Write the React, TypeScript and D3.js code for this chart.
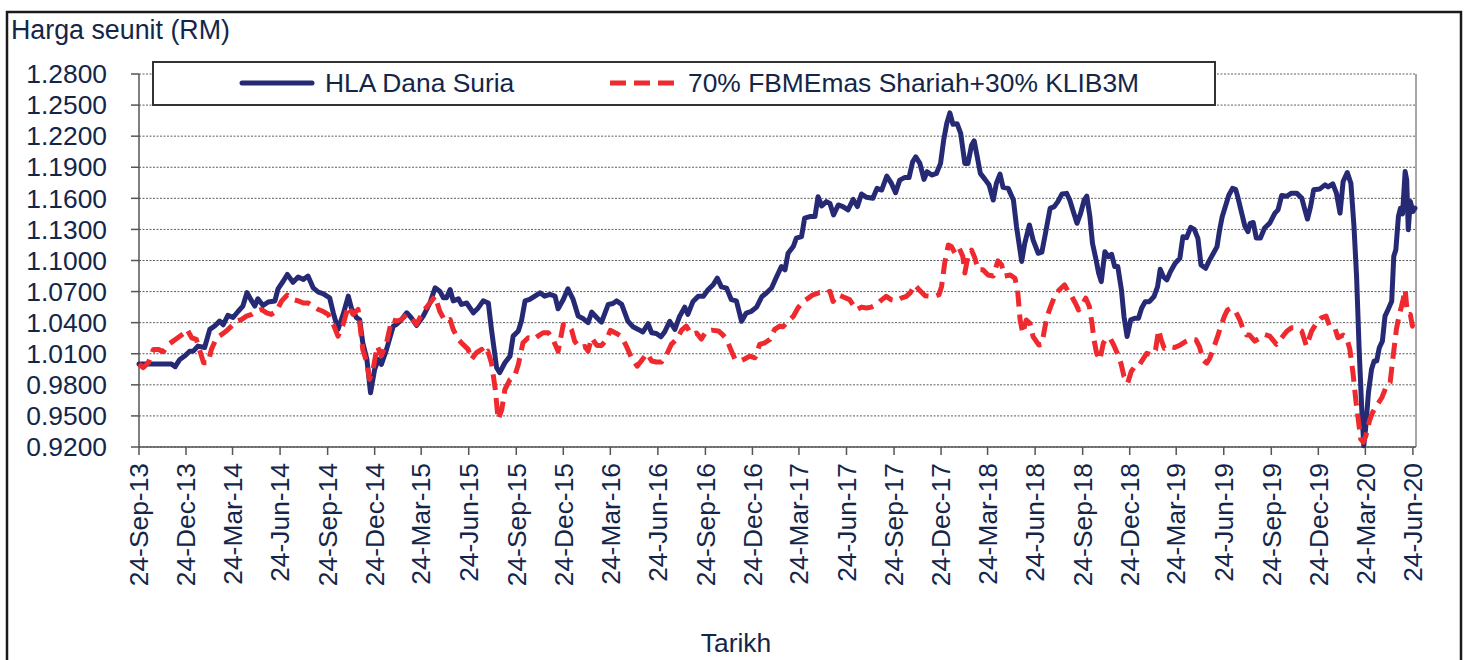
import React from "react";
import * as d3 from "d3";

const yTicks = [0.92, 0.95, 0.98, 1.01, 1.04, 1.07, 1.1, 1.13, 1.16, 1.19, 1.22, 1.25, 1.28];

const xTickDates = [
  "2013-09-24", "2013-12-24", "2014-03-24", "2014-06-24", "2014-09-24", "2014-12-24",
  "2015-03-24", "2015-06-24", "2015-09-24", "2015-12-24", "2016-03-24", "2016-06-24",
  "2016-09-24", "2016-12-24", "2017-03-24", "2017-06-24", "2017-09-24", "2017-12-24",
  "2018-03-24", "2018-06-24", "2018-09-24", "2018-12-24", "2019-03-24", "2019-06-24",
  "2019-09-24", "2019-12-24", "2020-03-24", "2020-06-24",
];

const seriesNames = ["HLA Dana Suria", "70% FBMEmas Shariah+30% KLIB3M"];
const yAxisTitle = "Harga seunit (RM)";
const xAxisTitle = "Tarikh";

const hlaSeries: [string, number][] = [
  ["2013-09-24", 1.0], ["2013-11-26", 1.0], ["2013-12-03", 0.9975], ["2013-12-12", 1.0045],
  ["2013-12-22", 1.008], ["2013-12-31", 1.0125], ["2014-01-07", 1.0125], ["2014-01-16", 1.0174],
  ["2014-01-29", 1.016], ["2014-02-08", 1.0335], ["2014-02-18", 1.037], ["2014-02-27", 1.0415],
  ["2014-03-06", 1.038], ["2014-03-15", 1.047], ["2014-03-25", 1.045], ["2014-04-04", 1.051],
  ["2014-04-13", 1.056], ["2014-04-21", 1.069], ["2014-04-30", 1.061], ["2014-05-06", 1.056],
  ["2014-05-12", 1.063], ["2014-05-22", 1.0566], ["2014-06-01", 1.06], ["2014-06-14", 1.061],
  ["2014-06-20", 1.0727], ["2014-06-30", 1.08], ["2014-07-08", 1.0865], ["2014-07-19", 1.079],
  ["2014-07-29", 1.084], ["2014-08-08", 1.0817], ["2014-08-17", 1.085], ["2014-08-27", 1.0736],
  ["2014-09-06", 1.0695], ["2014-09-15", 1.068], ["2014-09-28", 1.064], ["2014-10-05", 1.0495],
  ["2014-10-14", 1.0335], ["2014-10-24", 1.048], ["2014-11-03", 1.0656], ["2014-11-09", 1.054],
  ["2014-11-19", 1.0447], ["2014-11-25", 1.043], ["2014-12-01", 1.0206], ["2014-12-09", 1.0045],
  ["2014-12-16", 0.9724], ["2014-12-24", 0.995], ["2014-12-31", 1.0045], ["2015-01-06", 0.9997],
  ["2015-01-16", 1.0142], ["2015-01-29", 1.0367], ["2015-02-04", 1.0383], ["2015-02-14", 1.043],
  ["2015-02-24", 1.0495], ["2015-03-05", 1.0447], ["2015-03-15", 1.0373], ["2015-03-28", 1.0463],
  ["2015-04-10", 1.0592], ["2015-04-20", 1.0736], ["2015-04-29", 1.0704], ["2015-05-06", 1.064],
  ["2015-05-12", 1.064], ["2015-05-19", 1.072], ["2015-05-25", 1.061], ["2015-06-04", 1.063],
  ["2015-06-10", 1.0576], ["2015-06-20", 1.059], ["2015-07-03", 1.0495], ["2015-07-12", 1.054],
  ["2015-07-22", 1.061], ["2015-08-01", 1.059], ["2015-08-07", 1.0335], ["2015-08-17", 0.9965],
  ["2015-08-23", 0.9917], ["2015-09-02", 1.0013], ["2015-09-12", 1.0077], ["2015-09-18", 1.027],
  ["2015-09-28", 1.0319], ["2015-10-04", 1.0415], ["2015-10-11", 1.061], ["2015-10-20", 1.0624],
  ["2015-10-30", 1.0656], ["2015-11-09", 1.0688], ["2015-11-18", 1.0656], ["2015-11-28", 1.0672],
  ["2015-12-08", 1.0656], ["2015-12-14", 1.0534], ["2015-12-24", 1.0624], ["2016-01-02", 1.0727],
  ["2016-01-12", 1.0624], ["2016-01-22", 1.0463], ["2016-02-01", 1.0437], ["2016-02-10", 1.04],
  ["2016-02-17", 1.0502], ["2016-02-27", 1.0447], ["2016-03-07", 1.0405], ["2016-03-20", 1.0576],
  ["2016-03-29", 1.0585], ["2016-04-05", 1.061], ["2016-04-15", 1.0576], ["2016-04-27", 1.0415],
  ["2016-05-07", 1.036], ["2016-05-17", 1.0335], ["2016-05-26", 1.031], ["2016-06-05", 1.039],
  ["2016-06-12", 1.0303], ["2016-06-21", 1.0296], ["2016-06-30", 1.0264], ["2016-07-07", 1.031],
  ["2016-07-17", 1.0413], ["2016-07-27", 1.0335], ["2016-08-05", 1.046], ["2016-08-15", 1.055],
  ["2016-08-21", 1.048], ["2016-08-31", 1.0605], ["2016-09-10", 1.0654], ["2016-09-20", 1.0654],
  ["2016-09-29", 1.0718], ["2016-10-09", 1.0766], ["2016-10-17", 1.083], ["2016-10-25", 1.0746],
  ["2016-11-04", 1.0734], ["2016-11-13", 1.0622], ["2016-11-23", 1.061], ["2016-12-03", 1.0413],
  ["2016-12-12", 1.0493], ["2016-12-22", 1.051], ["2017-01-01", 1.055], ["2017-01-11", 1.065],
  ["2017-01-20", 1.0686], ["2017-01-30", 1.0734], ["2017-02-09", 1.0846], ["2017-02-18", 1.0942],
  ["2017-02-25", 1.091], ["2017-03-03", 1.107], ["2017-03-13", 1.1135], ["2017-03-19", 1.1215],
  ["2017-03-29", 1.123], ["2017-04-04", 1.1408], ["2017-04-14", 1.1424], ["2017-04-24", 1.1424],
  ["2017-04-30", 1.1616], ["2017-05-07", 1.1526], ["2017-05-16", 1.1568], ["2017-05-23", 1.155],
  ["2017-05-30", 1.144], ["2017-06-08", 1.1536], ["2017-06-17", 1.152], ["2017-06-27", 1.1488],
  ["2017-07-07", 1.159], ["2017-07-15", 1.152], ["2017-07-23", 1.1642], ["2017-08-02", 1.161],
  ["2017-08-14", 1.16], ["2017-08-22", 1.1696], ["2017-08-31", 1.168], ["2017-09-10", 1.1815],
  ["2017-09-19", 1.1744], ["2017-09-27", 1.1655], ["2017-10-05", 1.1776], ["2017-10-15", 1.1802],
  ["2017-10-23", 1.18], ["2017-10-30", 1.1953], ["2017-11-05", 1.2001], ["2017-11-13", 1.1937],
  ["2017-11-21", 1.1783], ["2017-11-27", 1.1857], ["2017-12-06", 1.1825], ["2017-12-15", 1.184],
  ["2017-12-23", 1.1937], ["2017-12-29", 1.2161], ["2018-01-04", 1.2322], ["2018-01-10", 1.2425],
  ["2018-01-16", 1.2315], ["2018-01-24", 1.232], ["2018-01-31", 1.2226], ["2018-02-08", 1.1937],
  ["2018-02-14", 1.1937], ["2018-02-21", 1.2113], ["2018-02-26", 1.2155], ["2018-03-04", 1.2001],
  ["2018-03-10", 1.1841], ["2018-03-19", 1.1783], ["2018-03-27", 1.1728], ["2018-04-04", 1.1584],
  ["2018-04-10", 1.1744], ["2018-04-17", 1.1834], ["2018-04-23", 1.1706], ["2018-05-03", 1.1696],
  ["2018-05-13", 1.1584], ["2018-05-19", 1.1327], ["2018-05-29", 1.0991], ["2018-06-04", 1.1167],
  ["2018-06-13", 1.1343], ["2018-06-20", 1.12], ["2018-06-30", 1.107], ["2018-07-07", 1.108],
  ["2018-07-14", 1.1262], ["2018-07-23", 1.1503], ["2018-07-31", 1.152], ["2018-08-07", 1.1568],
  ["2018-08-15", 1.1642], ["2018-08-24", 1.1648], ["2018-08-30", 1.1584], ["2018-09-06", 1.1471],
  ["2018-09-13", 1.1359], ["2018-09-20", 1.1455], ["2018-09-27", 1.1584], ["2018-10-02", 1.1622],
  ["2018-10-08", 1.1423], ["2018-10-13", 1.1166], ["2018-10-20", 1.1005], ["2018-10-25", 1.0877],
  ["2018-10-30", 1.0796], ["2018-11-06", 1.1085], ["2018-11-13", 1.1037], ["2018-11-19", 1.106],
  ["2018-11-25", 1.0941], ["2018-12-01", 1.0941], ["2018-12-08", 1.0716], ["2018-12-13", 1.0459],
  ["2018-12-19", 1.0266], ["2018-12-26", 1.0427], ["2019-01-03", 1.0443], ["2019-01-10", 1.0443],
  ["2019-01-16", 1.0539], ["2019-01-23", 1.0603], ["2019-01-31", 1.0603], ["2019-02-09", 1.0652],
  ["2019-02-16", 1.0748], ["2019-02-21", 1.0915], ["2019-02-27", 1.0845], ["2019-03-06", 1.0813],
  ["2019-03-13", 1.0893], ["2019-03-22", 1.0973], ["2019-03-31", 1.1021], ["2019-04-06", 1.123],
  ["2019-04-13", 1.122], ["2019-04-21", 1.132], ["2019-04-28", 1.13], ["2019-05-05", 1.1214],
  ["2019-05-11", 1.0957], ["2019-05-20", 1.0925], ["2019-05-26", 1.0989], ["2019-06-04", 1.107],
  ["2019-06-11", 1.1134], ["2019-06-16", 1.1295], ["2019-06-21", 1.1423], ["2019-06-28", 1.1535],
  ["2019-07-04", 1.1632], ["2019-07-11", 1.1696], ["2019-07-17", 1.1686], ["2019-07-21", 1.1616],
  ["2019-07-28", 1.1471], ["2019-08-04", 1.133], ["2019-08-10", 1.1278], ["2019-08-14", 1.1359],
  ["2019-08-20", 1.1367], ["2019-08-26", 1.1217], ["2019-09-03", 1.1217], ["2019-09-11", 1.1313],
  ["2019-09-21", 1.1361], ["2019-10-01", 1.1457], ["2019-10-07", 1.1489], ["2019-10-14", 1.1627],
  ["2019-10-24", 1.162], ["2019-11-02", 1.165], ["2019-11-12", 1.165], ["2019-11-22", 1.1602],
  ["2019-11-28", 1.1489], ["2019-12-03", 1.14], ["2019-12-09", 1.152], ["2019-12-15", 1.1682],
  ["2019-12-27", 1.1691], ["2020-01-06", 1.173], ["2020-01-12", 1.171], ["2020-01-21", 1.174],
  ["2020-01-28", 1.165], ["2020-02-04", 1.1457], ["2020-02-10", 1.1762], ["2020-02-18", 1.1849],
  ["2020-02-25", 1.1746], ["2020-03-02", 1.1329], ["2020-03-07", 1.0848], ["2020-03-12", 1.0142],
  ["2020-03-17", 0.9566], ["2020-03-21", 0.9212], ["2020-03-25", 0.9405], ["2020-03-30", 0.9725],
  ["2020-04-05", 0.995], ["2020-04-10", 1.003], ["2020-04-15", 1.003], ["2020-04-20", 1.0158],
  ["2020-04-26", 1.0222], ["2020-05-01", 1.0463], ["2020-05-07", 1.0527], ["2020-05-14", 1.0607],
  ["2020-05-18", 1.104], ["2020-05-22", 1.1104], ["2020-05-27", 1.1425], ["2020-05-31", 1.1505],
  ["2020-06-04", 1.145], ["2020-06-09", 1.1858], ["2020-06-12", 1.1778], ["2020-06-15", 1.1297],
  ["2020-06-19", 1.157], ["2020-06-24", 1.1473], ["2020-06-28", 1.1505],
];

const benchSeries: [string, number][] = [
  ["2013-09-24", 1.0], ["2013-10-02", 0.9965], ["2013-10-12", 1.0013], ["2013-10-22", 1.0142],
  ["2013-10-31", 1.0142], ["2013-11-10", 1.012], ["2013-11-20", 1.019], ["2013-11-29", 1.0222],
  ["2013-12-08", 1.0254], ["2013-12-18", 1.029], ["2013-12-26", 1.0335], ["2014-01-04", 1.0254],
  ["2014-01-13", 1.0238], ["2014-01-20", 1.0125], ["2014-01-27", 1.0013], ["2014-02-05", 1.0013],
  ["2014-02-11", 1.0142], ["2014-02-21", 1.0254], ["2014-03-03", 1.0286], ["2014-03-12", 1.0319],
  ["2014-03-22", 1.0367], ["2014-04-01", 1.0415], ["2014-04-10", 1.043], ["2014-04-20", 1.0463],
  ["2014-04-30", 1.048], ["2014-05-09", 1.051], ["2014-05-19", 1.0527], ["2014-05-29", 1.0495],
  ["2014-06-07", 1.048], ["2014-06-17", 1.051], ["2014-06-27", 1.061], ["2014-07-08", 1.0666],
  ["2014-07-19", 1.0624], ["2014-07-29", 1.061], ["2014-08-08", 1.059], ["2014-08-17", 1.059],
  ["2014-08-27", 1.0559], ["2014-09-06", 1.0527], ["2014-09-15", 1.051], ["2014-09-25", 1.048],
  ["2014-10-05", 1.0383], ["2014-10-14", 1.027], ["2014-10-24", 1.0383], ["2014-11-03", 1.0559],
  ["2014-11-12", 1.048], ["2014-11-22", 1.0527], ["2014-11-25", 1.0399], ["2014-12-01", 1.0142],
  ["2014-12-09", 1.0013], ["2014-12-14", 0.9852], ["2014-12-21", 0.995], ["2014-12-29", 1.0174],
  ["2015-01-06", 1.008], ["2015-01-16", 1.0206], ["2015-01-26", 1.043], ["2015-02-04", 1.0415],
  ["2015-02-14", 1.043], ["2015-02-24", 1.048], ["2015-03-05", 1.0447], ["2015-03-15", 1.0383],
  ["2015-03-28", 1.051], ["2015-04-10", 1.059], ["2015-04-20", 1.0656], ["2015-04-29", 1.051],
  ["2015-05-09", 1.0415], ["2015-05-19", 1.043], ["2015-05-25", 1.0335], ["2015-06-04", 1.0238],
  ["2015-06-13", 1.019], ["2015-06-23", 1.0142], ["2015-06-29", 1.0045], ["2015-07-09", 1.011],
  ["2015-07-19", 1.0142], ["2015-07-25", 1.0093], ["2015-07-31", 1.0125], ["2015-08-07", 1.0013],
  ["2015-08-14", 0.9772], ["2015-08-20", 0.9466], ["2015-08-27", 0.956], ["2015-09-02", 0.9755],
  ["2015-09-12", 0.9852], ["2015-09-21", 0.9884], ["2015-09-28", 0.9997], ["2015-10-07", 1.0206],
  ["2015-10-17", 1.0254], ["2015-10-27", 1.0238], ["2015-11-05", 1.027], ["2015-11-15", 1.0303],
  ["2015-11-25", 1.0303], ["2015-12-04", 1.0238], ["2015-12-14", 1.0125], ["2015-12-24", 1.0383],
  ["2016-01-02", 1.0383], ["2016-01-09", 1.033], ["2016-01-15", 1.0222], ["2016-01-25", 1.0158],
  ["2016-02-04", 1.017], ["2016-02-10", 1.0125], ["2016-02-17", 1.0254], ["2016-02-27", 1.018],
  ["2016-03-07", 1.018], ["2016-03-17", 1.0238], ["2016-03-24", 1.0326], ["2016-04-05", 1.0296],
  ["2016-04-15", 1.0264], ["2016-04-24", 1.0174], ["2016-05-04", 1.0061], ["2016-05-15", 0.998],
  ["2016-05-25", 1.0045], ["2016-06-03", 1.0103], ["2016-06-12", 1.003], ["2016-06-21", 1.002],
  ["2016-07-01", 1.002], ["2016-07-11", 1.0093], ["2016-07-20", 1.019], ["2016-07-30", 1.0238],
  ["2016-08-09", 1.0328], ["2016-08-18", 1.0367], ["2016-08-28", 1.0286], ["2016-09-07", 1.03],
  ["2016-09-16", 1.0242], ["2016-09-26", 1.032], ["2016-10-06", 1.0328], ["2016-10-19", 1.032],
  ["2016-10-27", 1.0286], ["2016-11-04", 1.024], ["2016-11-12", 1.0142], ["2016-11-20", 1.0051],
  ["2016-11-30", 1.003], ["2016-12-09", 1.005], ["2016-12-19", 1.0077], ["2016-12-29", 1.0061],
  ["2017-01-07", 1.019], ["2017-01-17", 1.0206], ["2017-01-27", 1.0238], ["2017-02-05", 1.0335],
  ["2017-02-15", 1.0367], ["2017-02-21", 1.036], ["2017-03-03", 1.0415], ["2017-03-13", 1.046],
  ["2017-03-22", 1.0541], ["2017-04-01", 1.0605], ["2017-04-11", 1.0637], ["2017-04-20", 1.0669],
  ["2017-05-03", 1.069], ["2017-05-13", 1.068], ["2017-05-23", 1.0702], ["2017-05-29", 1.0605],
  ["2017-06-08", 1.0669], ["2017-06-17", 1.065], ["2017-06-30", 1.0622], ["2017-07-13", 1.0525],
  ["2017-07-23", 1.055], ["2017-08-02", 1.0541], ["2017-08-11", 1.055], ["2017-08-21", 1.0573],
  ["2017-08-31", 1.062], ["2017-09-09", 1.0654], ["2017-09-19", 1.062], ["2017-09-29", 1.061],
  ["2017-10-09", 1.064], ["2017-10-18", 1.0654], ["2017-10-26", 1.0692], ["2017-11-03", 1.0766],
  ["2017-11-13", 1.071], ["2017-11-23", 1.066], ["2017-12-02", 1.0656], ["2017-12-12", 1.0656],
  ["2017-12-20", 1.067], ["2017-12-25", 1.075], ["2017-12-31", 1.0975], ["2018-01-07", 1.115],
  ["2018-01-13", 1.1135], ["2018-01-20", 1.107], ["2018-01-28", 1.112], ["2018-02-04", 1.104],
  ["2018-02-08", 1.088], ["2018-02-14", 1.104], ["2018-02-21", 1.11], ["2018-02-27", 1.103],
  ["2018-03-06", 1.091], ["2018-03-15", 1.091], ["2018-03-25", 1.086], ["2018-04-04", 1.085],
  ["2018-04-13", 1.0996], ["2018-04-20", 1.096], ["2018-04-26", 1.085], ["2018-05-07", 1.086],
  ["2018-05-16", 1.0828], ["2018-05-21", 1.0716], ["2018-05-26", 1.0426], ["2018-05-31", 1.0298],
  ["2018-06-07", 1.0426], ["2018-06-14", 1.0394], ["2018-06-20", 1.0266], ["2018-07-01", 1.0185],
  ["2018-07-07", 1.019], ["2018-07-12", 1.033], ["2018-07-17", 1.0458], ["2018-07-24", 1.0555],
  ["2018-08-03", 1.0684], ["2018-08-13", 1.0732], ["2018-08-20", 1.0764], ["2018-08-27", 1.07],
  ["2018-09-03", 1.0652], ["2018-09-10", 1.0587], ["2018-09-16", 1.0523], ["2018-09-23", 1.0571],
  ["2018-09-30", 1.0636], ["2018-10-07", 1.0555], ["2018-10-12", 1.0394], ["2018-10-16", 1.0233],
  ["2018-10-21", 1.0105], ["2018-10-27", 1.004], ["2018-11-03", 1.0202], ["2018-11-09", 1.025],
  ["2018-11-16", 1.025], ["2018-11-23", 1.0185], ["2018-11-30", 1.0105], ["2018-12-07", 1.0009],
  ["2018-12-13", 0.988], ["2018-12-20", 0.9816], ["2018-12-27", 0.9929], ["2019-01-03", 0.9977],
  ["2019-01-10", 0.998], ["2019-01-20", 1.0057], ["2019-01-26", 1.0105], ["2019-02-04", 1.0089],
  ["2019-02-12", 1.0137], ["2019-02-18", 1.033], ["2019-02-23", 1.0233], ["2019-03-01", 1.0153],
  ["2019-03-11", 1.0169], ["2019-03-21", 1.016], ["2019-04-01", 1.0185], ["2019-04-11", 1.0217],
  ["2019-04-21", 1.024], ["2019-05-01", 1.0235], ["2019-05-08", 1.0169], ["2019-05-15", 1.004],
  ["2019-05-22", 1.0009], ["2019-05-28", 1.0057], ["2019-06-04", 1.0153], ["2019-06-11", 1.025],
  ["2019-06-18", 1.0362], ["2019-06-25", 1.0458], ["2019-07-01", 1.0523], ["2019-07-08", 1.0539],
  ["2019-07-17", 1.0507], ["2019-07-25", 1.0426], ["2019-08-01", 1.033], ["2019-08-07", 1.0282],
  ["2019-08-13", 1.028], ["2019-08-23", 1.0222], ["2019-09-02", 1.0254], ["2019-09-11", 1.0286],
  ["2019-09-21", 1.027], ["2019-10-04", 1.019], ["2019-10-14", 1.0254], ["2019-10-24", 1.0318],
  ["2019-11-02", 1.035], ["2019-11-12", 1.035], ["2019-11-22", 1.0318], ["2019-12-01", 1.0174],
  ["2019-12-11", 1.0318], ["2019-12-21", 1.04], ["2019-12-30", 1.0447], ["2020-01-08", 1.0463],
  ["2020-01-15", 1.0366], ["2020-01-25", 1.035], ["2020-01-31", 1.0254], ["2020-02-10", 1.028],
  ["2020-02-17", 1.0254], ["2020-02-23", 1.0142], ["2020-02-29", 0.9918], ["2020-03-06", 0.9631],
  ["2020-03-11", 0.9438], ["2020-03-15", 0.9278], ["2020-03-20", 0.9246], ["2020-03-25", 0.9309],
  ["2020-04-01", 0.9454], ["2020-04-07", 0.9534], ["2020-04-15", 0.9598], ["2020-04-25", 0.9678],
  ["2020-05-04", 0.9791], ["2020-05-11", 0.9823], ["2020-05-16", 1.0046], ["2020-05-20", 1.0206],
  ["2020-05-23", 1.0334], ["2020-05-28", 1.0463], ["2020-06-02", 1.0559], ["2020-06-05", 1.0623],
  ["2020-06-09", 1.0719], ["2020-06-12", 1.0559], ["2020-06-15", 1.0479], ["2020-06-19", 1.048],
  ["2020-06-23", 1.0366], ["2020-06-28", 1.0463],
];

const NAVY = "#262a74";
const RED = "#ee2a2f";
const TEXT = "#13264a";
const FONT = "'Liberation Sans', Arial, sans-serif";
const FS = 26.4;

export default function App() {
  const W = 1466;
  const H = 660;
  const left = 139;
  const right = 1416;
  const top = 74;
  const bottom = 447;

  const parse = d3.timeParse("%Y-%m-%d");
  const x = d3
    .scaleTime()
    .domain([parse("2013-09-24") as Date, parse("2020-06-30") as Date])
    .range([left, right]);
  const y = d3.scaleLinear().domain([0.92, 1.28]).range([bottom, top]);
  const line = d3
    .line<[string, number]>()
    .x((d) => x(parse(d[0]) as Date))
    .y((d) => y(d[1]));
  const fmtY = d3.format(".4f");
  const fmtX = d3.timeFormat("%d-%b-%y");

  return (
    <svg
      width={W}
      height={H}
      style={{ position: "absolute", left: 0, top: 0, display: "block", background: "#fff" }}
      fontFamily={FONT}
    >
      <rect x={0} y={0} width={W} height={H} fill="#fff" />
      {/* outer frame */}
      <rect x={7} y={12} width={1454} height={700} fill="none" stroke="#1a1a1a" strokeWidth={2.5} />

      <text x={11} y={39} fontSize={FS + 0.4} fill={TEXT}>
        {yAxisTitle}
      </text>

      {/* gridlines */}
      {yTicks.map((t) => (
        <line
          key={"g" + t}
          x1={left}
          x2={right}
          y1={y(t)}
          y2={y(t)}
          stroke="#5e5e5e"
          strokeWidth={1}
          strokeDasharray="2 1.5"
        />
      ))}
      {/* right border */}
      <line x1={right} x2={right} y1={top} y2={bottom} stroke="#8a8a8a" strokeWidth={1.5} />

      {/* y axis */}
      <line x1={left} x2={left} y1={top} y2={bottom} stroke="#555" strokeWidth={1.5} />
      {yTicks.map((t) => (
        <g key={"yt" + t}>
          <line x1={left - 8} x2={left} y1={y(t)} y2={y(t)} stroke="#555" strokeWidth={1.5} />
          <text x={107} y={y(t)} dy="0.35em" textAnchor="end" fontSize={FS} fill={TEXT}>
            {fmtY(t)}
          </text>
        </g>
      ))}

      {/* x axis */}
      <line x1={left} x2={right} y1={bottom} y2={bottom} stroke="#555" strokeWidth={1.5} />
      {xTickDates.map((s) => {
        const d = parse(s) as Date;
        const xx = x(d);
        return (
          <g key={"xt" + s}>
            <line x1={xx} x2={xx} y1={bottom} y2={bottom + 8} stroke="#555" strokeWidth={1.5} />
            <text
              transform={`translate(${xx},${463}) rotate(-90)`}
              dy="0.35em"
              textAnchor="end"
              fontSize={FS}
              fill={TEXT}
            >
              {fmtX(d)}
            </text>
          </g>
        );
      })}

      <text x={736} y={652} textAnchor="middle" fontSize={FS} fill={TEXT}>
        {xAxisTitle}
      </text>

      {/* series */}
      <path
        d={line(hlaSeries) || ""}
        fill="none"
        stroke={NAVY}
        strokeWidth={5}
        strokeLinejoin="round"
        strokeLinecap="round"
      />
      <path
        d={line(benchSeries) || ""}
        fill="none"
        stroke={RED}
        strokeWidth={5}
        strokeDasharray="16 8"
        strokeLinejoin="round"
      />

      {/* legend */}
      <rect x={153} y={62} width={1062} height={43} fill="#fff" stroke="#333" strokeWidth={2} />
      <line x1={242} x2={312} y1={83} y2={83} stroke={NAVY} strokeWidth={5} strokeLinecap="round" />
      <text x={325} y={83} dy="0.35em" fontSize={FS} fill={TEXT}>
        {seriesNames[0]}
      </text>
      <line x1={610} x2={680} y1={83} y2={83} stroke={RED} strokeWidth={5} strokeDasharray="16 8" />
      <text x={688} y={83} dy="0.35em" fontSize={FS} fill={TEXT}>
        {seriesNames[1]}
      </text>
    </svg>
  );
}
